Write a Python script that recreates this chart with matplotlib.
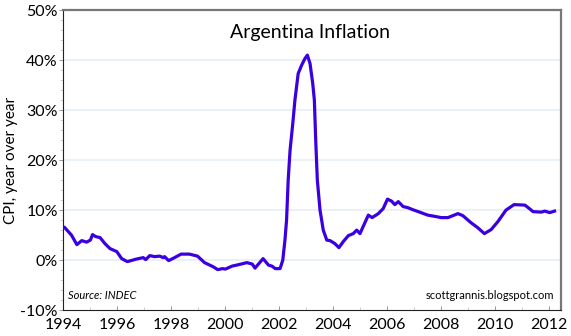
import matplotlib
matplotlib.use('Agg')
import matplotlib.pyplot as plt
from matplotlib.ticker import MultipleLocator, FuncFormatter

# year-over-year CPI
years = [1994.05, 1994.3, 1994.5, 1994.68, 1994.86, 1995.0, 1995.08, 1995.2, 1995.36,
         1995.54, 1995.73, 1995.98, 1996.16, 1996.37, 1996.7, 1996.96, 1997.05, 1997.2,
         1997.38, 1997.57, 1997.7, 1997.75, 1997.9, 1998.12, 1998.36, 1998.67, 1998.97,
         1999.23, 1999.54, 1999.72, 1999.9, 2000.0, 2000.25, 2000.5, 2000.8, 2001.0,
         2001.1, 2001.4, 2001.6, 2001.73, 2001.85, 2002.03, 2002.13, 2002.21, 2002.27,
         2002.33, 2002.4, 2002.5, 2002.58, 2002.7, 2002.83, 2002.95, 2003.04, 2003.14,
         2003.24, 2003.3, 2003.35, 2003.41, 2003.51, 2003.63, 2003.76, 2003.88, 2004.06,
         2004.21, 2004.37, 2004.56, 2004.74, 2004.87, 2004.99, 2005.3, 2005.44, 2005.67,
         2005.85, 2006.01, 2006.16, 2006.28, 2006.41, 2006.59, 2006.76, 2006.94, 2007.25,
         2007.5, 2007.81, 2008.0, 2008.25, 2008.62, 2008.8, 2009.1, 2009.35, 2009.6,
         2009.85, 2010.1, 2010.4, 2010.7, 2011.1, 2011.27, 2011.4, 2011.71, 2011.84,
         2012.02, 2012.2]
cpi = [6.5, 5.0, 3.1, 3.9, 3.6, 4.0, 5.1, 4.7, 4.5,
       3.3, 2.3, 1.7, 0.3, -0.3, 0.2, 0.5, 0.1, 0.9,
       0.7, 0.8, 0.5, 0.7, -0.1, 0.5, 1.2, 1.2, 0.8,
       -0.5, -1.3, -1.9, -1.7, -1.8, -1.2, -0.9, -0.5, -0.8,
       -1.6, 0.3, -1.0, -1.2, -1.7, -1.7, 0.0, 4.0, 8.0,
       16.0, 22.0, 27.3, 32.0, 37.3, 39.0, 40.3, 41.0, 39.3,
       35.3, 32.0, 24.0, 16.0, 10.0, 6.0, 4.0, 3.9, 3.3,
       2.5, 3.7, 4.9, 5.3, 6.0, 5.3, 9.0, 8.5, 9.3,
       10.3, 12.2, 11.8, 11.1, 11.7, 10.7, 10.5, 10.1, 9.5,
       9.0, 8.7, 8.5, 8.5, 9.3, 8.9, 7.5, 6.5, 5.3,
       6.1, 7.7, 10.0, 11.1, 11.0, 10.3, 9.7, 9.6, 9.8,
       9.5, 9.8]

year_ticks = list(range(1994, 2013, 2))
pct_ticks = list(range(-10, 51, 10))

plt.rcParams['font.family'] = ['Lato', 'DejaVu Sans']

fig = plt.figure(figsize=(5.71, 3.36), dpi=100)
ax = fig.add_axes([0.111, 0.077, 0.872, 0.893])

for y in pct_ticks[1:-1]:
    ax.axhline(y, color='#E6EDF7', lw=1.2, zorder=0)

ax.plot(years, cpi, color='#3A00E0', lw=2.3, solid_joinstyle='round', zorder=3)

ax.set_xlim(1994, 2012.45)
ax.set_ylim(-10, 50)
ax.set_xticks(year_ticks)
ax.set_xticklabels([str(y) for y in year_ticks], fontsize=11.5)
ax.xaxis.set_minor_locator(MultipleLocator(1))
ax.set_yticks(pct_ticks)
ax.yaxis.set_major_formatter(FuncFormatter(lambda v, p: f'{v:.0f}%'))
ax.yaxis.set_minor_locator(MultipleLocator(2))
ax.tick_params(axis='y', labelsize=11.5, direction='out', length=3, width=0.6, color='#888888', pad=1)
ax.tick_params(axis='y', which='minor', length=2, width=0.5, color='#BBBBBB')
ax.tick_params(axis='x', direction='in', length=3, width=0.6, color='#888888', pad=6)
ax.tick_params(axis='x', which='minor', direction='in', length=2, width=0.5, color='#BBBBBB')

ax.spines['left'].set_color('#222222')
ax.spines['bottom'].set_color('#222222')
for s in ['top', 'right']:
    ax.spines[s].set_color('#777777')
    ax.spines[s].set_linewidth(1.6)

ax.set_ylabel('CPI, year over year', fontsize=11, labelpad=2)
ax.text(0.496, 0.925, 'Argentina Inflation', transform=ax.transAxes,
        ha='center', va='center', fontsize=14)
ax.text(0.01, 0.03, 'Source: INDEC', transform=ax.transAxes,
        ha='left', va='bottom', fontsize=8, style='italic')
ax.text(0.985, 0.03, 'scottgrannis.blogspot.com', transform=ax.transAxes,
        ha='right', va='bottom', fontsize=8)

fig.savefig('out.png', dpi=100)
